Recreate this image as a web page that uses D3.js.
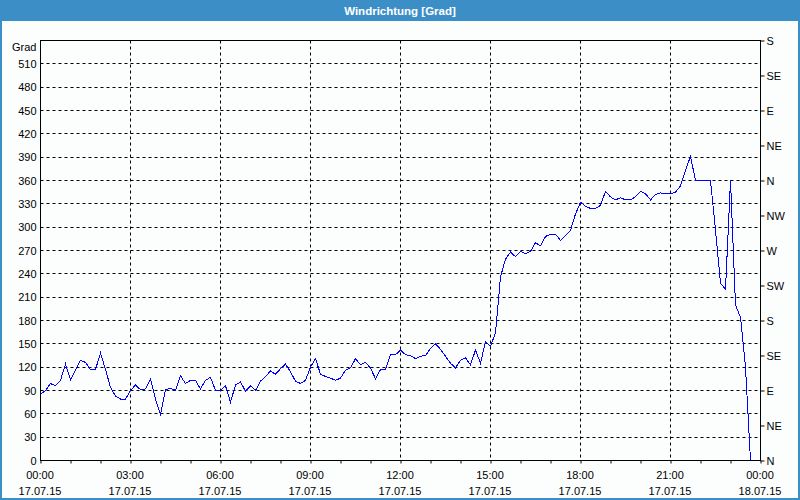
<!DOCTYPE html>
<html>
<head>
<meta charset="utf-8">
<script src="https://cdn.jsdelivr.net/npm/d3@7"></script>
<style>
  html, body { margin: 0; padding: 0; background: #fcfefe; }
  svg { display: block; }
  text { font-family: "Liberation Sans", Arial, sans-serif; }
</style>
</head>
<body>
<svg id="chart" width="800" height="500"></svg>
<script>
// ---- data ----
const title = "Windrichtung [Grad]";
const unitLabel = "Grad";
const startTime = "2015-07-17T00:00:00Z";
const endTime = "2015-07-18T00:00:00Z";
const stepMinutes = 10;
const direction = [
  85, 90, 99, 96, 103, 124, 104, 116, 129, 126, 117, 117, 138, 117, 94, 83, 79, 79, 90, 97,
  91, 92, 105, 79, 59, 91, 93, 90, 109, 99, 103, 103, 92, 103, 107, 90, 90, 96, 75, 97,
  101, 89, 96, 90, 102, 108, 115, 111, 118, 124, 114, 102, 99, 103, 120, 131, 111, 108, 106, 103,
  106, 116, 119, 131, 123, 126, 119, 105, 117, 117, 136, 136, 142, 136, 135, 131, 134, 135,
  144, 150, 143, 134, 125, 119, 129, 132, 123, 142, 125, 153, 147, 164,
  236, 259, 268, 262, 269, 266, 269, 280, 276, 288, 291, 291, 283, 289, 296, 317, 332, 327, 324, 324,
  328, 346, 339, 335, 338, 335, 335, 339, 346, 343, 335, 342, 344, 343, 343, 345, 353, 373, 391, 360,
  360, 360, 360, 296, 228, 220, 360, 200, 184, 120, 0
];
const leftTicks = [0, 30, 60, 90, 120, 150, 180, 210, 240, 270, 300, 330, 360, 390, 420, 450, 480, 510];
const compassTicks = [0, 45, 90, 135, 180, 225, 270, 315, 360, 405, 450, 495, 540];
const compassLabels = ["N", "NE", "E", "SE", "S", "SW", "W", "NW", "N", "NE", "E", "SE", "S"];
const yMax = 540;

// ---- layout ----
const W = 800, H = 500;
const L = 40, R = 760, T = 40, B = 460;
const svg = d3.select("#chart");
const t0 = new Date(startTime), t1 = new Date(endTime);

const x = d3.scaleUtc().domain([t0, t1]).range([L, R]);
const y = d3.scaleLinear().domain([0, yMax]).range([B, T]);

const pts = direction.map((v, i) => ({ t: new Date(t0.getTime() + i * stepMinutes * 60000), v }));

// background
svg.append("rect").attr("width", W).attr("height", H).attr("fill", "#fcfefe");

// title bar
svg.append("rect").attr("x", 0).attr("y", 0).attr("width", W).attr("height", 21).attr("fill", "#3b8fc6");
svg.append("text").attr("x", W / 2).attr("y", 11).attr("text-anchor", "middle")
  .attr("dominant-baseline", "central").attr("font-size", 11.5).attr("font-weight", "bold")
  .attr("fill", "#ffffff").text(title);

// outer border
svg.append("rect").attr("x", 1).attr("y", 1).attr("width", W - 2).attr("height", H - 2)
  .attr("fill", "none").attr("stroke", "#3b8fc6").attr("stroke-width", 2);

const g = svg.append("g").attr("transform", "translate(0.5,0.5)");

// horizontal grid
g.append("g").selectAll("line").data(leftTicks.filter(d => d > 0)).join("line")
  .attr("x1", L).attr("x2", R).attr("y1", d => Math.round(y(d))).attr("y2", d => Math.round(y(d)))
  .attr("stroke", "#000").attr("stroke-dasharray", "3,3");

// vertical grid
const majorTimes = d3.utcHour.every(3).range(t0, t1).filter(d => d > t0);
g.append("g").selectAll("line").data(majorTimes).join("line")
  .attr("x1", d => Math.round(x(d))).attr("x2", d => Math.round(x(d)))
  .attr("y1", T).attr("y2", B)
  .attr("stroke", "#000").attr("stroke-dasharray", "3,3");

// data line
const line = d3.line().x(d => x(d.t)).y(d => y(d.v));
g.append("path").datum(pts).attr("d", line).attr("fill", "none")
  .attr("stroke", "#0000ff").attr("stroke-width", 1).attr("shape-rendering", "crispEdges");

// frame
g.append("rect").attr("x", L).attr("y", T).attr("width", R - L).attr("height", B - T)
  .attr("fill", "none").attr("stroke", "#000");

// left axis labels
const leftAxis = d3.axisLeft(y).tickValues(leftTicks).tickSize(0).tickPadding(4).tickFormat(d3.format("d"));
const la = g.append("g").attr("transform", `translate(${L},0)`).call(leftAxis);
la.select(".domain").remove();
la.selectAll("text").attr("font-size", 11).attr("fill", "#000").attr("font-family", "Liberation Sans, Arial, sans-serif");
g.append("text").attr("x", 36).attr("y", 46).attr("text-anchor", "end").attr("dominant-baseline", "central")
  .attr("font-size", 11).attr("fill", "#000").text(unitLabel);

// right axis (compass)
const rightAxis = d3.axisRight(y).tickValues(compassTicks).tickSize(4).tickPadding(2)
  .tickFormat((d, i) => compassLabels[i]);
const ra = g.append("g").attr("transform", `translate(${R},0)`).call(rightAxis);
ra.select(".domain").remove();
ra.selectAll("text").attr("font-size", 11).attr("fill", "#000").attr("font-family", "Liberation Sans, Arial, sans-serif");

// bottom axis: hourly minor ticks
const hours = d3.utcHour.every(1).range(t0, d3.utcHour.offset(t1, 1));
const bottomAxis = d3.axisBottom(x).tickValues(hours).tickSize(3).tickFormat("");
const ba = g.append("g").attr("transform", `translate(0,${B})`).call(bottomAxis);
ba.select(".domain").remove();

// bottom labels (two lines)
const labelTimes = d3.utcHour.every(3).range(t0, d3.utcHour.offset(t1, 1));
const fmtTime = d3.utcFormat("%H:%M"), fmtDate = d3.utcFormat("%d.%m.%y");
const lab = svg.append("g").selectAll("g").data(labelTimes).join("g")
  .attr("transform", d => `translate(${x(d)},0)`);
lab.append("text").attr("y", 475).attr("text-anchor", "middle").attr("dominant-baseline", "central")
  .attr("font-size", 11).attr("fill", "#000").text(d => fmtTime(d));
lab.append("text").attr("y", 491).attr("text-anchor", "middle").attr("dominant-baseline", "central")
  .attr("font-size", 11).attr("fill", "#000").text(d => fmtDate(d));
</script>
</body>
</html>
